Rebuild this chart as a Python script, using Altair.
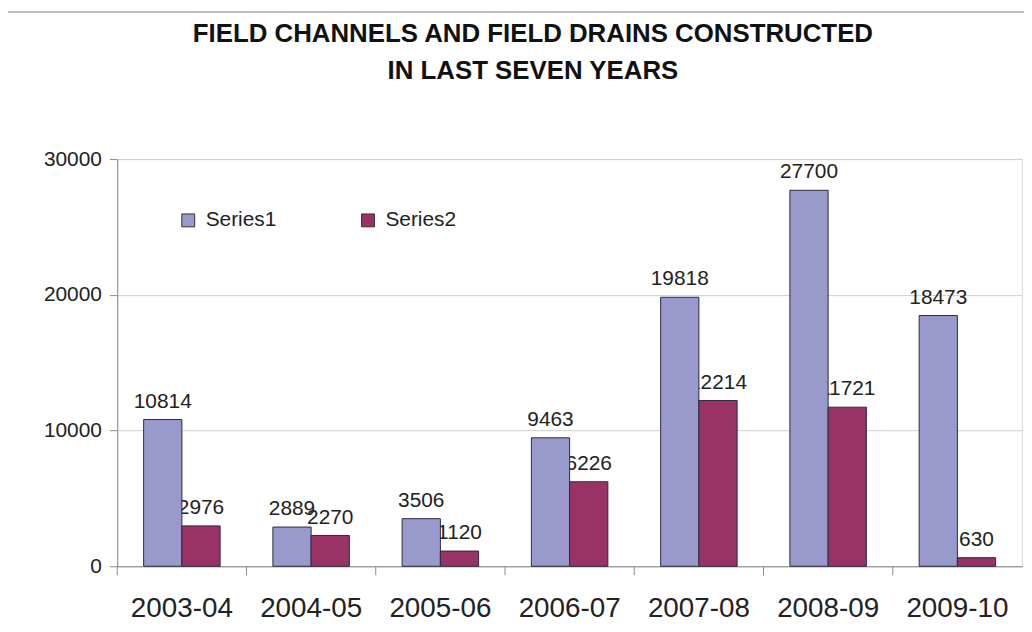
import altair as alt
import pandas as pd

categories = ["2003-04", "2004-05", "2005-06", "2006-07", "2007-08", "2008-09", "2009-10"]
series_names = ["Series1", "Series2"]
series1 = [10814, 2889, 3506, 9463, 19818, 27700, 18473]
series2 = [2976, 2270, 1120, 6226, 12214, 11721, 630]
y_ticks = [0, 10000, 20000, 30000]
title_lines = ["FIELD CHANNELS AND FIELD DRAINS  CONSTRUCTED", "IN LAST SEVEN YEARS"]
colors = ["#9999CC", "#993366"]

rows = []
for c, v1, v2 in zip(categories, series1, series2):
    rows.append({"cat": c, "series": series_names[0], "value": v1})
    rows.append({"cat": c, "series": series_names[1], "value": v2})
df = pd.DataFrame(rows)

W, H = 911, 410
FONT = "Liberation Sans"

x_enc = alt.X(
    "cat:N", sort=categories,
    scale=alt.Scale(paddingInner=0, paddingOuter=0),
    axis=alt.Axis(title=None, labelAngle=0, ticks=False, labelFontSize=28,
                  labelPadding=29, domainColor="#8a8a8a", labelColor="#222222",
                  grid=False, labelFont=FONT),
)
xo_enc = alt.XOffset("series:N",
                     scale=alt.Scale(domain=series_names, paddingOuter=0.69, paddingInner=0))
y_enc = alt.Y(
    "value:Q",
    scale=alt.Scale(domain=[0, 30000]),
    axis=alt.Axis(values=y_ticks, title=None, format="d", labelFontSize=21,
                  tickSize=8, labelPadding=8, grid=True, gridColor="#cfcfcf",
                  domainColor="#8a8a8a", tickColor="#8a8a8a", labelColor="#222222",
                  labelFont=FONT),
)

base = alt.Chart(df)

labels2 = base.transform_filter(alt.datum.series == "Series2").mark_text(
    baseline="bottom", dy=-8, fontSize=21, font=FONT, color="#222222"
).encode(x=x_enc, xOffset=xo_enc, y=y_enc, text="value:Q")

bars = base.mark_bar(stroke="#2a2a40", strokeWidth=1).encode(
    x=x_enc, xOffset=xo_enc, y=y_enc,
    color=alt.Color(
        "series:N",
        scale=alt.Scale(domain=series_names, range=colors),
        legend=alt.Legend(title=None, orient="none", legendX=61, legendY=51,
                          direction="horizontal", symbolType="square",
                          symbolSize=169, symbolStrokeColor="#333333",
                          symbolStrokeWidth=1, labelFontSize=21, labelOffset=7,
                          columnPadding=81, padding=0, labelFont=FONT,
                          labelColor="#222222"),
    ),
)

labels1 = base.transform_filter(alt.datum.series == "Series1").mark_text(
    baseline="bottom", dy=-8, fontSize=21, font=FONT, color="#222222"
).encode(x=x_enc, xOffset=xo_enc, y=y_enc, text="value:Q")

cat_ticks = alt.Chart(pd.DataFrame({"cat": categories})).mark_rule(
    color="#8a8a8a", strokeWidth=1
).encode(
    x=alt.X("cat:N", sort=categories, bandPosition=0),
    y=alt.value(H), y2=alt.value(H + 9),
)

border_left = alt.Chart(pd.DataFrame({"k": [0]})).mark_rule(color="#bdbdbd", strokeWidth=2).encode(
    x=alt.value(-113), y=alt.value(-148), y2=alt.value(H + 60)
)
border_top = alt.Chart(pd.DataFrame({"k": [0]})).mark_rule(color="#bdbdbd", strokeWidth=2).encode(
    x=alt.value(-113), x2=alt.value(W + 10), y=alt.value(-148)
)

chart = alt.layer(border_left, border_top, labels2, bars, labels1, cat_ticks).properties(
    width=W, height=H,
    padding={"left": 110, "top": 150, "right": 2, "bottom": 54},
    autosize=alt.AutoSizeParams(type="none"),
    title=alt.TitleParams(title_lines, fontSize=26, fontWeight="bold", font=FONT,
                          anchor="middle", dx=-37, offset=-73, lineHeight=37,
                          color="#111111"),
).configure_view(strokeWidth=0).configure(font=FONT)

chart.save("out.html", embed_options={"renderer": "svg", "actions": False})
